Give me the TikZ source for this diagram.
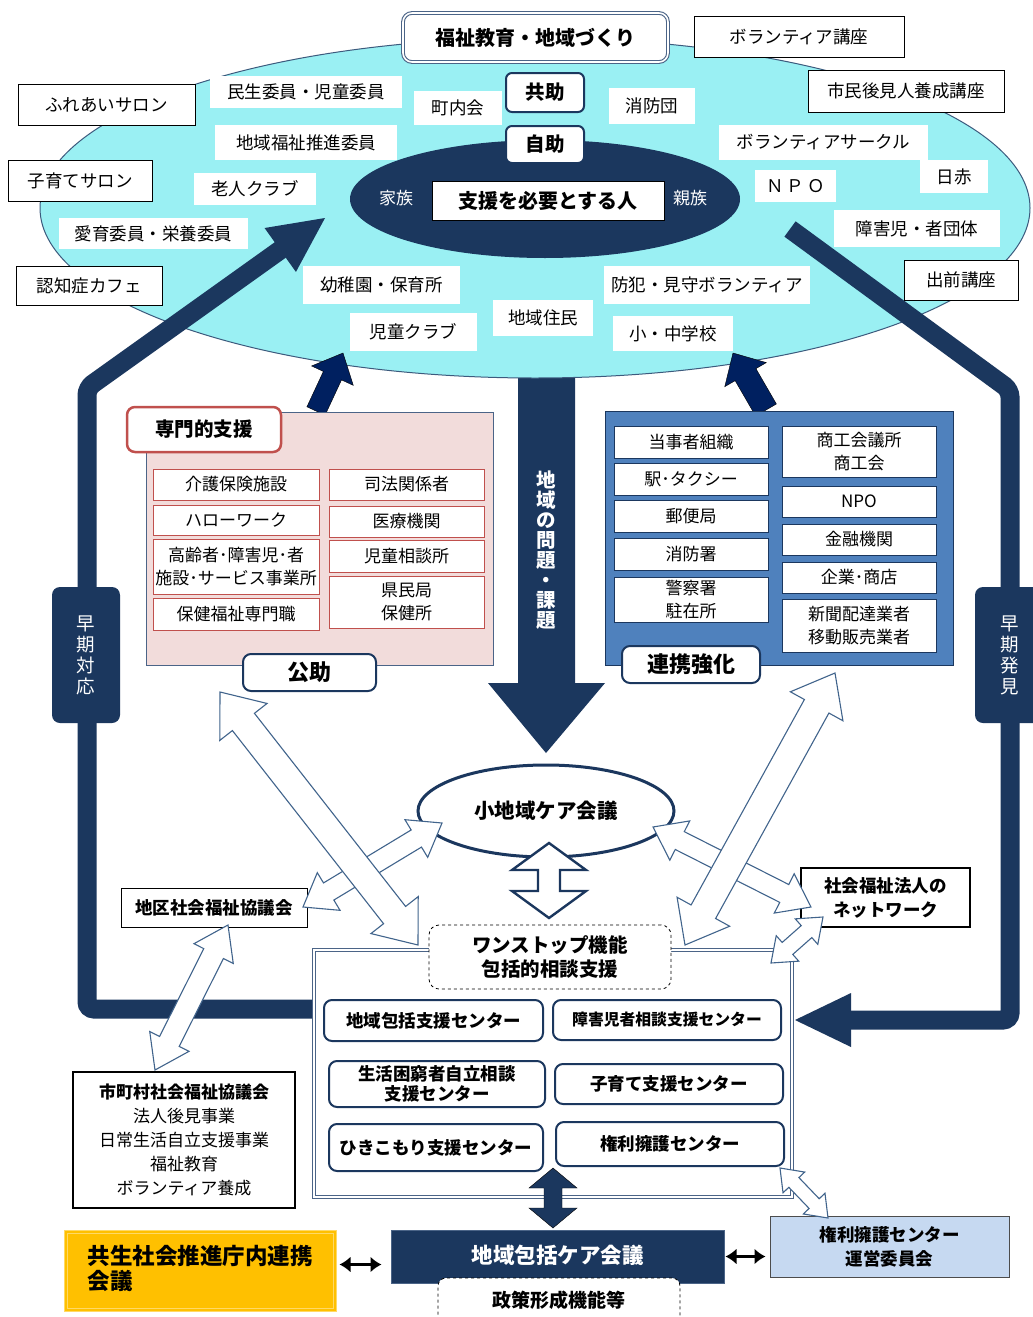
\documentclass[tikz,border=0pt]{standalone}
\usepackage{fontspec}
\setmainfont{Noto Sans CJK JP}
\usetikzlibrary{shapes.geometric,calc,arrows.meta}
\definecolor{cyanfill}{RGB}{154,240,243}
\definecolor{ellborder}{RGB}{60,90,125}
\definecolor{navy}{RGB}{27,55,94}
\definecolor{deepnavy}{RGB}{0,32,96}
\definecolor{bordgray}{RGB}{75,100,135}
\definecolor{pinkfill}{RGB}{242,220,219}
\definecolor{redline}{RGB}{192,80,77}
\definecolor{bluefill}{RGB}{79,129,189}
\definecolor{lightblue}{RGB}{198,217,241}
\definecolor{yellowfill}{RGB}{255,192,0}
\definecolor{yellowline}{RGB}{255,217,102}
\definecolor{arrowline}{RGB}{65,100,140}
\newcommand\fsz[2]{\fontsize{#1}{#2}\selectfont}
\newcommand\mkbox[7]{%
  \pgfmathsetmacro\mkcx{(#3+#5)/2}%
  \pgfmathsetmacro\mkcy{(#4+#6)/2}%
  \pgfmathsetmacro\mkw{#5-#3}%
  \pgfmathsetmacro\mkh{#6-#4}%
  \node[#1, minimum width=\mkw pt, minimum height=\mkh pt] (#2) at (\mkcx,\mkcy) {#7};}
% double-headed polygon arrow: style, A, B, halfshaft, headlen, halfhead
\newcommand\dblarrow[6]{%
  \coordinate (da1) at ($(#2)!#5pt!(#3)$);
  \coordinate (da2) at ($(#3)!#5pt!(#2)$);
  \draw[#1] (#2) -- ($(da1)!#6pt!90:(#3)$) -- ($(da1)!#4pt!90:(#3)$)
    -- ($(da2)!#4pt!-90:(#2)$) -- ($(da2)!#6pt!-90:(#2)$) -- (#3)
    -- ($(da2)!#6pt!90:(#2)$) -- ($(da2)!#4pt!90:(#2)$)
    -- ($(da1)!#4pt!-90:(#3)$) -- ($(da1)!#6pt!-90:(#3)$) -- cycle;}
% single-headed polygon arrow: style, from, tip, halfshaft, headlen, halfhead
\newcommand\sglarrow[6]{%
  \coordinate (sa) at ($(#3)!#5pt!(#2)$);
  \draw[#1] ($(#2)!#4pt!90:(#3)$) -- ($(sa)!#4pt!-90:(#2)$) -- ($(sa)!#6pt!-90:(#2)$)
    -- (#3) -- ($(sa)!#6pt!90:(#2)$) -- ($(sa)!#4pt!90:(#2)$) -- ($(#2)!#4pt!-90:(#3)$) -- cycle;}
% triangle head: from, tip, len, half
\newcommand\headtri[4]{%
  \coordinate (ht) at ($(#2)!#3pt!(#1)$);
  \fill[navy] (#2) -- ($(ht)!#4pt!90:(#1)$) -- ($(ht)!#4pt!-90:(#1)$) -- cycle;}
\tikzset{
  base/.style={inner sep=0pt, align=center, font=\fsz{17.5}{20}},
  plain/.style={base, fill=white},
  framed/.style={plain, draw=black, line width=0.9pt},
  titlebox/.style={base, fill=white, draw=bordgray, double=white, double distance=1.6pt, line width=1.1pt, rounded corners=9pt, font=\bfseries\fsz{20}{22}},
  helpbox/.style={base, fill=white, draw=navy, line width=2pt, rounded corners=6pt, font=\bfseries\fsz{19.5}{22}},
  personbox/.style={base, fill=white, draw=black, line width=1pt, font=\bfseries\fsz{20}{22}},
  whitetext/.style={inner sep=0pt, text=white, font=\fsz{17}{20}},
  redbox/.style={base, fill=white, draw=redline, line width=0.9pt, font=\fsz{17}{22.5}},
  bluebox/.style={base, fill=white, draw=navy, line width=0.9pt, font=\fsz{17}{22.5}},
  labelbox/.style={base, fill=white, draw=navy, line width=2pt, rounded corners=8pt, font=\bfseries\fsz{22}{24}},
  centerbox/.style={base, fill=white, draw=navy, line width=2pt, rounded corners=8pt, font=\bfseries\fsz{17.5}{19}},
  sidebox/.style={base, fill=navy, rounded corners=8pt, text=white, font=\fsz{18.5}{21}},
  loopline/.style={draw=navy, line width=19pt, rounded corners=7pt},
  hollow/.style={draw=arrowline, fill=white, line width=1.1pt, line join=miter},
  blackarrow/.style={draw=black, line width=2.6pt, {Latex[length=11pt,width=16pt]}-{Latex[length=11pt,width=16pt]}},
}
\begin{document}
\begin{tikzpicture}[x=1pt,y=-1pt]
\useasboundingbox (0,0) rectangle (1033,1317);
\fill[white] (0,0) rectangle (1033,1317);

% central down arrow (drawn under ellipse)
\fill[navy] (518,370) -- (575,370) -- (575,683) -- (605,683) -- (546,753) -- (488,683) -- (518,683) -- cycle;
\node[inner sep=0pt, align=center, text=white, font=\bfseries\fsz{19.5}{20}] (issue) at (546,550) {地\\域\\の\\問\\題\\・\\課\\題};

% big region ellipse
\node[ellipse, draw=ellborder, fill=cyanfill, line width=1pt, minimum width=990pt, minimum height=340pt, inner sep=0pt] (region) at (535,208) {};
\node[ellipse, fill=navy, minimum width=390pt, minimum height=118pt, inner sep=0pt] (selfell) at (545,199) {};

% loops
\coordinate (lA) at (314,1009);
\coordinate (lB) at (87,1009);
\coordinate (lC) at (87,388);
\coordinate (lT) at (325,218);
\coordinate (lH) at ($(lT)!50pt!(lC)$);
\draw[loopline] (lA) -- (lB) -- (lC) -- (lH);
\headtri{lC}{lT}{55}{27}
\coordinate (rA) at (790,229);
\coordinate (rB) at (1010,390);
\coordinate (rC) at (1010,1020);
\coordinate (rT) at (795,1020);
\coordinate (rH) at ($(rT)!52pt!(rC)$);
\draw[loopline] (rA) -- (rB) -- (rC) -- (rH);
\headtri{rC}{rT}{56}{27}

% small up arrows
\coordinate (ulF) at (316,411);
\coordinate (ulT) at (343,353);
\sglarrow{fill=deepnavy}{ulF}{ulT}{10}{25}{23}
\coordinate (urF) at (766,410);
\coordinate (urT) at (733,353);
\sglarrow{fill=deepnavy}{urF}{urT}{12}{25}{24}

% labels in region
\mkbox{titlebox}{title}{403}{13}{668}{62}{福祉教育・地域づくり}
\mkbox{framed}{volcourse}{694}{16}{904}{57}{ボランティア講座}
\mkbox{framed}{fureai}{18}{84}{195}{125}{ふれあいサロン}
\mkbox{framed}{kosodate}{8}{160}{152}{201}{子育てサロン}
\mkbox{framed}{ninchi}{16}{266}{162}{305}{認知症カフェ}
\mkbox{framed}{shimin}{808}{70}{1004}{112}{市民後見人養成講座}
\mkbox{framed}{demae}{904}{260}{1018}{300}{出前講座}
\mkbox{plain}{minsei}{210}{76}{402}{108}{民生委員・児童委員}
\mkbox{plain}{suishin}{215}{125}{397}{160}{地域福祉推進委員}
\mkbox{plain}{rojin}{194}{173}{316}{205}{老人クラブ}
\mkbox{plain}{aiiku}{59}{218}{248}{249}{愛育委員・栄養委員}
\mkbox{plain}{chonai}{414}{91}{502}{125}{町内会}
\mkbox{plain}{shobodan}{609}{88}{695}{124}{消防団}
\mkbox{plain}{volcircle}{719}{125}{928}{160}{ボランティアサークル}
\mkbox{plain}{nisseki}{920}{160}{988}{193}{日赤}
\mkbox{plain}{npotop}{755}{170}{836}{202}{Ｎ\,Ｐ\,Ｏ}
\mkbox{plain}{shogai}{834}{210}{1000}{247}{障害児・者団体}
\mkbox{plain}{yochien}{303}{266}{460}{304}{幼稚園・保育所}
\mkbox{plain}{jido}{350}{313}{477}{351}{児童クラブ}
\mkbox{plain}{jumin}{493}{300}{593}{336}{地域住民}
\mkbox{plain}{bohan}{604}{266}{810}{304}{防犯・見守ボランティア}
\mkbox{plain}{school}{613}{316}{733}{351}{小・中学校}
\mkbox{helpbox}{kyojo}{506}{73}{584}{112}{共助}
\mkbox{helpbox}{jijo}{506}{126}{584}{163}{自助}
\mkbox{personbox}{person}{432}{181}{664}{220}{支援を必要とする人}
\node[whitetext] (kazoku) at (396,198) {家族};
\node[whitetext] (shinzoku) at (690,198) {親族};

% side labels
\mkbox{sidebox}{early1}{52}{587}{120}{723}{早\\期\\対\\応}
\mkbox{sidebox}{early2}{975}{587}{1045}{723}{早\\期\\発\\見}

% pink box
\mkbox{base, fill=pinkfill, draw=bordgray, line width=1pt}{pinkarea}{146}{412}{493}{665}{}
\mkbox{base, fill=white, draw=redline, line width=2.5pt, rounded corners=8pt, font=\bfseries\fsz{19.5}{22}}{senmon}{127}{407}{281}{452}{専門的支援}
\mkbox{redbox}{kaigo}{153}{469}{319}{500}{介護保険施設}
\mkbox{redbox}{hello}{153}{505}{319}{535}{ハローワーク}
\mkbox{redbox}{shisetsu}{153}{539}{319}{594}{高齢者･障害児･者\\施設･サービス事業所}
\mkbox{redbox}{hoken}{153}{598}{319}{630}{保健福祉専門職}
\mkbox{redbox}{shiho}{329}{469}{484}{500}{司法関係者}
\mkbox{redbox}{iryo}{329}{506}{484}{537}{医療機関}
\mkbox{redbox}{jiso}{329}{540}{484}{572}{児童相談所}
\mkbox{redbox}{kenmin}{329}{576}{484}{628}{県民局\\保健所}
\mkbox{labelbox}{kojo}{243}{654}{376}{691}{公助}

% blue box
\mkbox{base, fill=bluefill, draw=navy, line width=1pt}{bluearea}{605}{411}{953}{665}{}
\mkbox{bluebox}{tojisha}{614}{426}{768}{458}{当事者組織}
\mkbox{bluebox}{eki}{614}{463}{768}{495}{駅･タクシー}
\mkbox{bluebox}{yubin}{614}{500}{768}{532}{郵便局}
\mkbox{bluebox}{shobosho}{614}{538}{768}{570}{消防署}
\mkbox{bluebox}{keisatsu}{614}{577}{768}{622}{警察署\\駐在所}
\mkbox{bluebox}{shoko}{782}{426}{936}{477}{商工会議所\\商工会}
\mkbox{bluebox}{npo}{782}{486}{936}{517}{NPO}
\mkbox{bluebox}{kinyu}{782}{524}{936}{555}{金融機関}
\mkbox{bluebox}{kigyo}{782}{562}{936}{593}{企業･商店}
\mkbox{bluebox}{shinbun}{782}{599}{936}{652}{新聞配達業者\\移動販売業者}
\mkbox{labelbox}{renkei}{622}{646}{760}{683}{連携強化}

% small area care meeting
\node[ellipse, draw=navy, fill=white, line width=3pt, minimum width=256pt, minimum height=92pt, inner sep=0pt, font=\bfseries\fsz{20.5}{22}] (shochiiki) at (546,811) {小地域ケア会議};
\coordinate (vA) at (549,843);
\coordinate (vB) at (549,918);
\dblarrow{draw=navy, fill=white, line width=2.4pt, line join=miter}{vA}{vB}{11}{27}{37}

% center box
\mkbox{base, draw=bordgray, double=white, double distance=1.8pt, line width=1.1pt}{cbox}{314}{950}{792}{1197}{}
\mkbox{base, fill=white, draw=black, line width=0.8pt, dashed, rounded corners=10pt, font=\bfseries\fsz{19.5}{24}}{onestop}{429}{925}{671}{989}{ワンストップ機能\\包括的相談支援}
\mkbox{centerbox}{chiikihokatsu}{324}{1000}{543}{1041}{地域包括支援センター}
\mkbox{centerbox, font=\bfseries\fsz{15.8}{18}}{shogaisodan}{553}{1000}{781}{1040}{障害児者相談支援センター}
\mkbox{centerbox, font=\bfseries\fsz{17.5}{20}}{konkyu}{329}{1061}{545}{1107}{生活困窮者自立相談\\支援センター}
\mkbox{centerbox}{kosodatesc}{555}{1064}{783}{1104}{子育て支援センター}
\mkbox{centerbox}{hikikomori}{329}{1124}{543}{1171}{ひきこもり支援センター}
\mkbox{centerbox}{kenriyogo}{556}{1122}{784}{1166}{権利擁護センター}

% side boxes
\mkbox{framed, font=\bfseries\fsz{17.5}{20}}{chiku}{121}{888}{307}{927}{地区社会福祉協議会}
\mkbox{framed, line width=2pt, font=\bfseries\fsz{17.5}{24}}{network}{801}{868}{970}{927}{社会福祉法人の\\ネットワーク}
\mkbox{framed, line width=2.2pt, font=\fsz{17}{23.8}}{shichoson}{73}{1072}{295}{1208}{{\bfseries 市町村社会福祉協議会}\\法人後見事業\\日常生活自立支援事業\\福祉教育\\ボランティア養成}

% bottom row
\coordinate (nA) at (553,1168);
\coordinate (nB) at (553,1228);
\dblarrow{fill=navy}{nA}{nB}{9}{20}{24}
\mkbox{base, fill=navy, draw=bordgray, line width=1pt, text=white, font=\bfseries\fsz{21.5}{22}}{care}{391}{1230}{724}{1283}{\raisebox{4pt}{地域包括ケア会議}}
\mkbox{base, fill=white, draw=black, line width=0.8pt, dashed, rounded corners=8pt, font=\bfseries\fsz{19}{22}}{seisaku}{438}{1278}{680}{1325}{\raisebox{4pt}{政策形成機能等}}
\mkbox{base, fill=yellowfill, draw=yellowline, double=yellowfill, double distance=1.5pt, line width=1pt, font=\bfseries\fsz{22.5}{25}}{kyosei}{66}{1232}{335}{1310}{}
\node[inner sep=0pt, align=left, text width=231pt, font=\bfseries\fsz{22.5}{25}] (kyoseitext) at (203,1268) {共生社会推進庁内連携\\会議};
\mkbox{base, fill=lightblue, draw=black!70, line width=1pt, font=\bfseries\fsz{17.5}{24}}{unei}{770}{1216}{1009}{1277}{権利擁護センター\\運営委員会}
\draw[blackarrow] ([xshift=4pt,yshift=-8pt]care.west -| kyosei.east) -- ([xshift=-9pt,yshift=-8pt]care.west);
\draw[blackarrow] ([xshift=1pt]care.east) -- ([xshift=-4pt]care.east -| unei.west);

% hollow arrows (short ones first)
\coordinate (h3a) at (303,907);
\coordinate (h3b) at (442,823);
\dblarrow{hollow}{h3a}{h3b}{10}{30}{22}
\coordinate (h4a) at (653,827);
\coordinate (h4b) at (811,907);
\dblarrow{hollow}{h4a}{h4b}{10}{30}{22}
\coordinate (h5a) at (823,917);
\coordinate (h5b) at (771,963);
\dblarrow{hollow}{h5a}{h5b}{8}{22}{17}
\coordinate (h6a) at (228,925);
\coordinate (h6b) at (155,1070);
\dblarrow{hollow}{h6a}{h6b}{11}{32}{22}
\coordinate (h7a) at (780,1168);
\coordinate (h7b) at (828,1218);
\dblarrow{hollow}{h7a}{h7b}{7}{20}{15}
\coordinate (h1a) at (220,692);
\coordinate (h1b) at (418,945);
\dblarrow{hollow}{h1a}{h1b}{14}{38}{30}
\coordinate (h2a) at (835,673);
\coordinate (h2b) at (685,945);
\dblarrow{hollow}{h2a}{h2b}{14}{38}{30}
\end{tikzpicture}
\end{document}
